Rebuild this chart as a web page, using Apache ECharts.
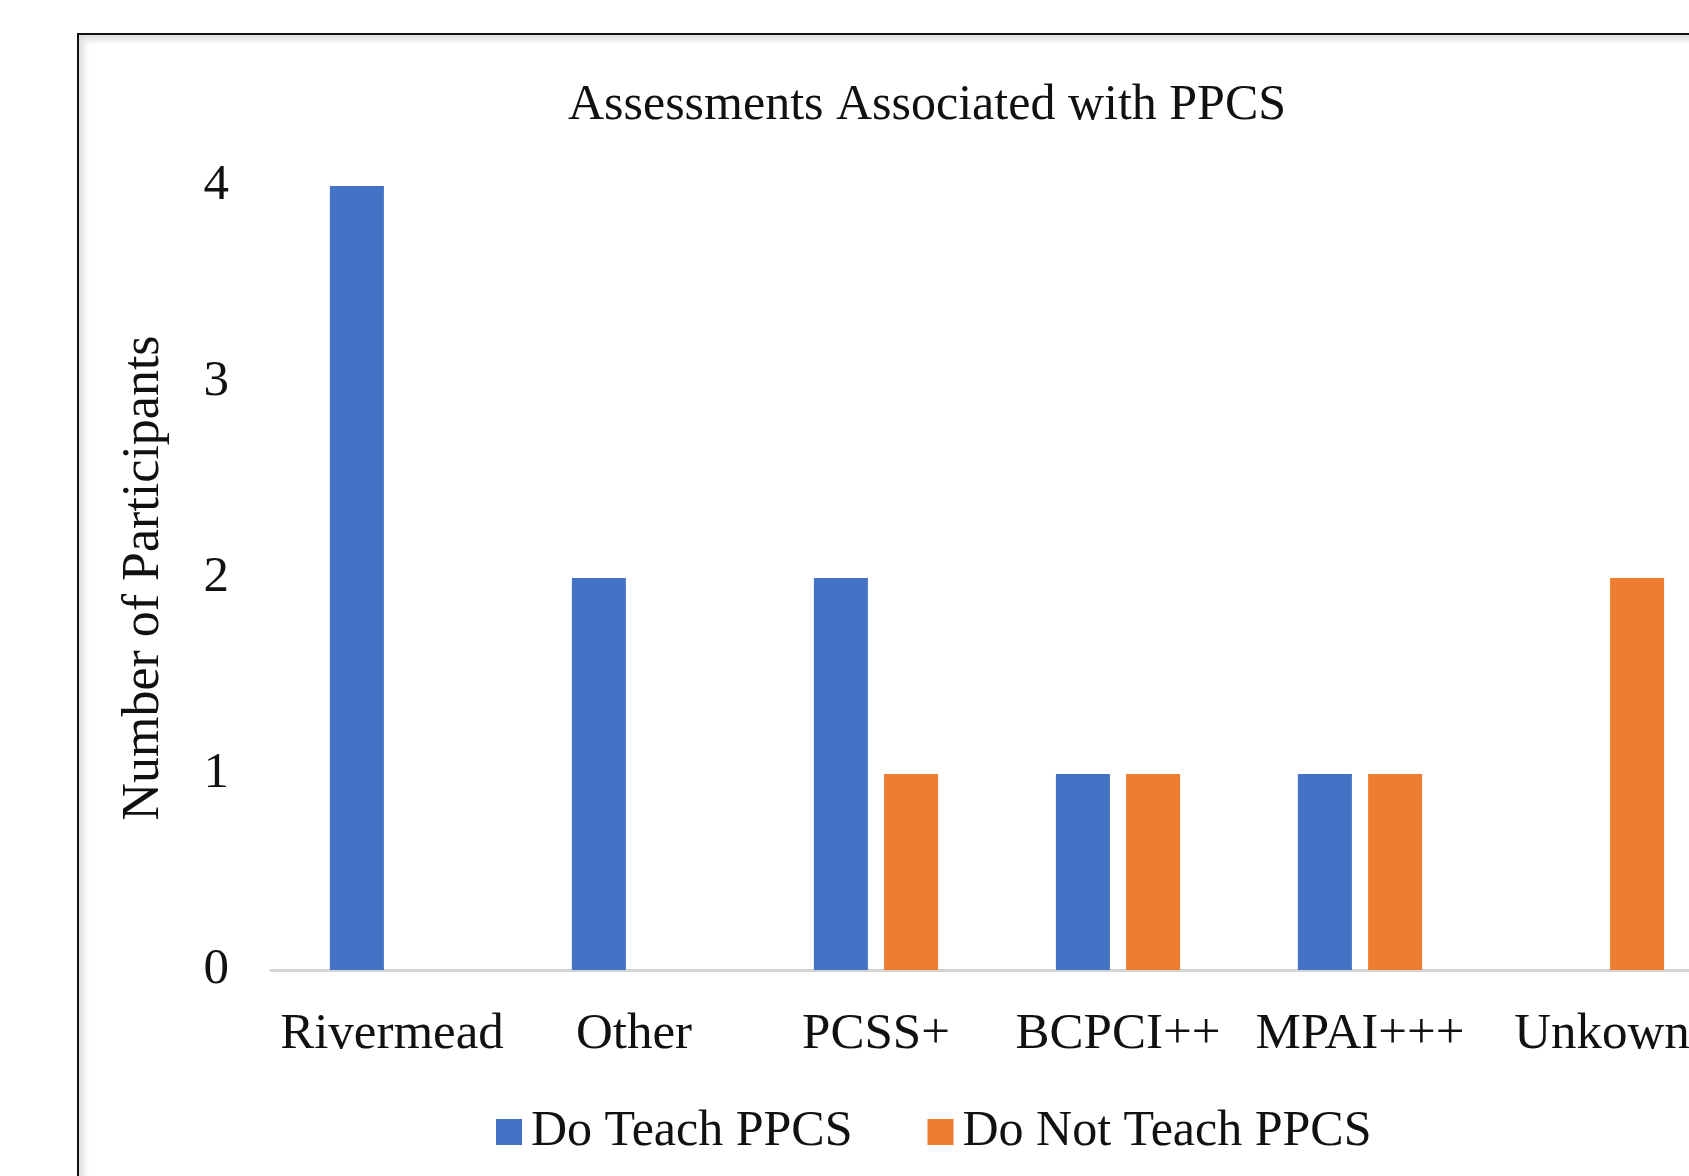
<!DOCTYPE html>
<html>
<head>
<meta charset="utf-8">
<script src="https://cdn.jsdelivr.net/npm/echarts@6/dist/echarts.min.js"></script>
<style>
  html, body { margin: 0; padding: 0; width: 1689px; height: 1176px; overflow: hidden; background: #fff; }
  #frame { position: absolute; left: 77px; top: 33px; width: 1800px; height: 1300px;
           border-top: 2px solid #111; border-left: 2px solid #111;
           box-shadow: inset 5px 5px 6px rgba(0,0,0,0.13); }
  #chart { position: absolute; left: 0; top: 0; width: 1800px; height: 1250px; }
</style>
</head>
<body>
<div id="frame"></div>
<div id="chart"></div>
<script>
const categories = ['Rivermead', 'Other', 'PCSS+', 'BCPCI++', 'MPAI+++', 'Unkown'];
const doTeach = [4, 2, 2, 1, 1, 0];
const doNotTeach = [0, 0, 1, 1, 1, 2];
const seriesNames = ['Do Teach PPCS', 'Do Not Teach PPCS'];
const chartTitle = 'Assessments Associated with PPCS';
const yAxisName = 'Number of Participants';

const font = '"Liberation Serif", "Times New Roman", serif';
const chart = echarts.init(document.getElementById('chart'), null, { renderer: 'canvas' });
chart.setOption({
  animation: false,
  color: ['#4472C4', '#ED7D31'],
  title: {
    text: chartTitle,
    left: 922, top: 76, textAlign: 'center',
    textStyle: { fontFamily: font, fontSize: 50, fontWeight: 'normal', color: '#111' }
  },
  legend: {
    data: seriesNames,
    left: 491, top: 1102,
    itemWidth: 26, itemHeight: 26, itemGap: 75,
    icon: 'rect',
    textStyle: { fontFamily: font, fontSize: 50, color: '#111', padding: [0, 0, 0, 4] }
  },
  grid: { left: 271, right: 77, top: 186, bottom: 280 },
  xAxis: {
    type: 'category',
    data: categories,
    axisLine: { show: true, lineStyle: { color: '#d4d4d4', width: 3 } },
    axisTick: { show: false },
    axisLabel: { fontFamily: font, fontSize: 51, color: '#111', margin: 39, interval: 0 }
  },
  yAxis: {
    type: 'value',
    min: 0, max: 4, interval: 1,
    name: yAxisName,
    nameLocation: 'middle',
    nameGap: 101,
    nameTextStyle: { fontFamily: font, fontSize: 52, color: '#111' },
    axisLine: { show: false },
    axisTick: { show: false },
    splitLine: { show: false },
    axisLabel: { fontFamily: font, fontSize: 51, color: '#111', margin: 42 }
  },
  series: [
    { name: seriesNames[0], type: 'bar', data: doTeach, barWidth: 54, barGap: '30%' },
    { name: seriesNames[1], type: 'bar', data: doNotTeach, barWidth: 54, barGap: '30%' }
  ]
});
</script>
</body>
</html>
